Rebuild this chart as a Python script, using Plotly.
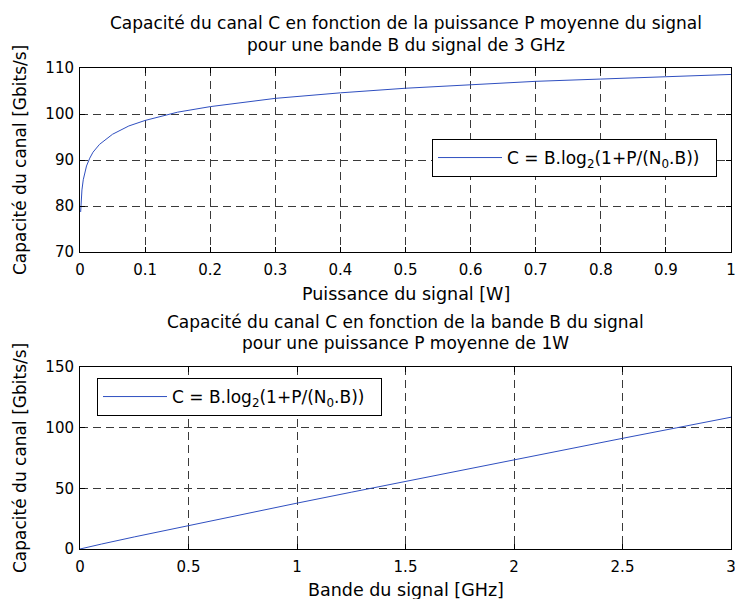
import plotly.graph_objects as go

# Top: capacity vs power (B = 3 GHz)
puissance_W = [0.001, 0.0015, 0.002, 0.003, 0.005, 0.0075, 0.01, 0.015, 0.02, 0.03, 0.05,
               0.075, 0.1, 0.15, 0.2, 0.3, 0.4, 0.5, 0.6, 0.7, 0.8, 0.9, 1.0]
capacite_P = [78.7, 80.4, 81.7, 83.5, 85.7, 87.4, 88.7, 90.4, 91.7, 93.4, 95.6,
              97.4, 98.6, 100.4, 101.6, 103.4, 104.6, 105.6, 106.4, 107.1, 107.6, 108.1, 108.6]

# Bottom: capacity vs band (P = 1 W)
bande_GHz = [0.0, 0.01, 0.05, 0.1, 0.25, 0.5, 0.75, 1.0, 1.25, 1.5, 1.75, 2.0, 2.25, 2.5, 2.75, 3.0]
capacite_B = [0.0, 0.44, 2.11, 4.11, 9.95, 19.4, 28.65, 37.8, 46.8, 55.8, 64.7, 73.6, 82.4, 91.2, 99.9, 108.6]

legend_label = "C = B.log<sub>2</sub>(1+P/(N<sub>0</sub>.B))\u00a0\u00a0"
titre1 = ["Capacité du canal C en fonction de la puissance P moyenne du signal",
          "pour une bande B du signal de 3 GHz"]
titre2 = ["Capacité du canal C en fonction de la bande B du signal",
          "pour une puissance P moyenne de 1W"]
ylabel = "Capacité du canal [Gbits/s]"
xlabel1 = "Puissance du signal [W]"
xlabel2 = "Bande du signal [GHz]"

W, H = 735, 599
FONT = "DejaVu Sans, Arial, sans-serif"
LINE = "#2f4fc0"

fig = go.Figure()
fig.add_trace(go.Scatter(x=puissance_W, y=capacite_P, mode="lines", name=legend_label,
                         line=dict(color=LINE, width=1), xaxis="x", yaxis="y", legend="legend"))
fig.add_trace(go.Scatter(x=bande_GHz, y=capacite_B, mode="lines", name=legend_label,
                         line=dict(color=LINE, width=1), xaxis="x2", yaxis="y2", legend="legend2"))

def py(p):
    return 1 - p / H

def px(p):
    return p / W

x0, x1 = px(80), px(731)
top_dom = [py(252), py(68)]
bot_dom = [py(549), py(367)]

axis_common = dict(showline=True, linecolor="black", linewidth=1, mirror="ticks",
                   ticks="inside", ticklen=5, tickcolor="black", automargin=False,
                   ticklabeloverflow="allow",
                   showgrid=True, gridcolor="#3a3a3a", gridwidth=1, griddash="8px,5px",
                   zeroline=False, tickfont=dict(size=15, color="black", family=FONT))

fig.update_layout(
    width=W, height=H,
    margin=dict(l=0, r=0, t=0, b=0, autoexpand=False),
    paper_bgcolor="white", plot_bgcolor="white",
    font=dict(family=FONT, size=16, color="black"),
    xaxis=dict(domain=[x0, x1], range=[0, 1], dtick=0.1, anchor="y", ticklabelstandoff=4, **axis_common),
    yaxis=dict(domain=top_dom, range=[70, 110], dtick=10, anchor="x", ticklabelstandoff=2, **axis_common),
    xaxis2=dict(domain=[x0, x1], range=[0, 3], dtick=0.5, anchor="y2", ticklabelstandoff=4, **axis_common),
    yaxis2=dict(domain=bot_dom, range=[0, 150], dtick=50, anchor="x2", ticklabelstandoff=2, **axis_common),
    legend=dict(x=px(432), y=py(158), xanchor="left", yanchor="middle",
                bordercolor="black", borderwidth=1, bgcolor="white", itemwidth=64,
                font=dict(size=17, family=FONT)),
    legend2=dict(x=px(97), y=py(397), xanchor="left", yanchor="middle",
                 bordercolor="black", borderwidth=1, bgcolor="white", itemwidth=64,
                 font=dict(size=17, family=FONT)),
    showlegend=True,
)

def label(text, xp, yp, size=16, angle=0):
    fig.add_annotation(text=text, x=px(xp), y=py(yp), xref="paper", yref="paper",
                       xanchor="center", yanchor="middle", showarrow=False, textangle=angle,
                       font=dict(size=size, family=FONT, color="black"))

cx = (80 + 731) / 2
label(titre1[0], cx, 23.5, size=17)
label(titre1[1], cx, 44.5, size=17)
label(titre2[0], cx, 322, size=17)
label(titre2[1], cx, 343, size=17)
label(xlabel1, cx, 294, size=17.5)
label(xlabel2, cx, 590, size=17.5)
label(ylabel, 20, 160, size=17, angle=-90)
label(ylabel, 20, 458, size=17, angle=-90)

fig.write_html("out.html", post_script="document.body.style.margin='0';",
               config={"displayModeBar": False})
